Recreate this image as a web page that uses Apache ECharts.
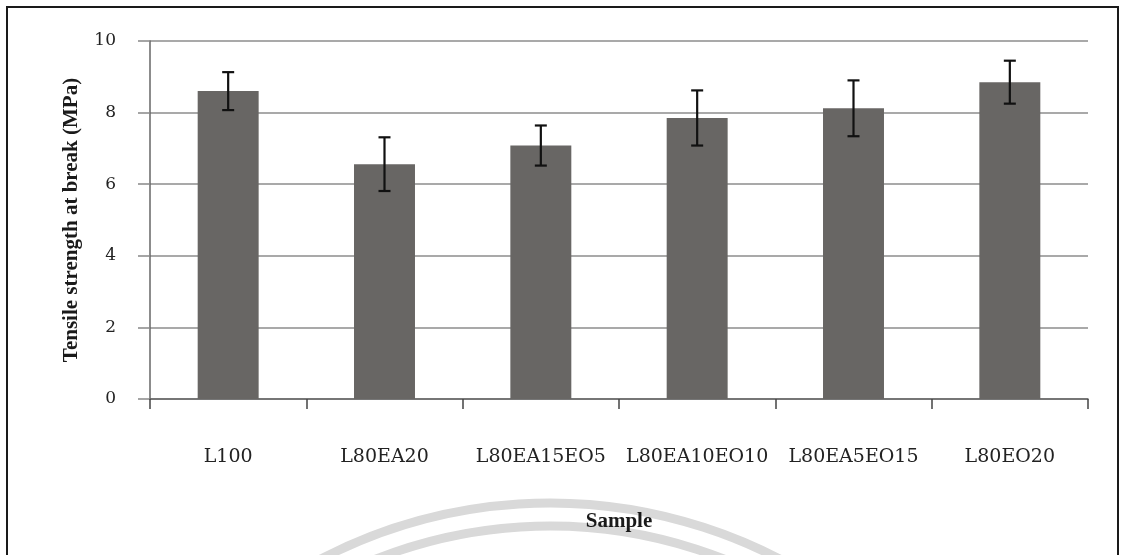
<!DOCTYPE html>
<html>
<head>
<meta charset="utf-8">
<title>Tensile strength at break</title>
<script src="https://cdn.jsdelivr.net/npm/echarts@6/dist/echarts.min.js"></script>
<style>
  html, body { margin: 0; padding: 0; background: #ffffff; }
  #chart { width: 1127px; height: 555px; }
</style>
</head>
<body>
<div id="chart"></div>
<script>
// Sample names along the x axis
const samples = ['L100', 'L80EA20', 'L80EA15EO5', 'L80EA10EO10', 'L80EA5EO15', 'L80EO20'];
// Mean tensile strength at break (MPa)
const strength = [8.6, 6.56, 7.08, 7.85, 8.12, 8.85];
// Standard deviation shown as error bars (MPa)
const deviation = [0.53, 0.75, 0.56, 0.77, 0.78, 0.6];
// Y axis ticks
const yTicks = [0, 2, 4, 6, 8, 10];

const errorData = strength.map((v, i) => [i, v - deviation[i], v + deviation[i]]);

const chart = echarts.init(document.getElementById('chart'), null, { renderer: 'canvas' });

chart.setOption({
  backgroundColor: '#ffffff',
  animation: false,
  graphic: [
    {
      type: 'rect',
      shape: { x: 7, y: 7, width: 1111, height: 560 },
      style: { fill: 'none', stroke: '#1a1a1a', lineWidth: 2 },
      z: -1
    },
    {
      type: 'arc',
      shape: { cx: 550, cy: 1000, r: 497, startAngle: Math.PI * 1.1, endAngle: Math.PI * 1.9 },
      style: { fill: 'none', stroke: '#d9d9d9', lineWidth: 9 },
      z: -2
    },
    {
      type: 'arc',
      shape: { cx: 550, cy: 1000, r: 474, startAngle: Math.PI * 1.1, endAngle: Math.PI * 1.9 },
      style: { fill: 'none', stroke: '#d9d9d9', lineWidth: 9 },
      z: -2
    }
  ],
  grid: { left: 150, right: 39, top: 41, bottom: 156, containLabel: false },
  xAxis: {
    type: 'category',
    data: samples,
    name: 'Sample',
    nameLocation: 'middle',
    nameGap: 112,
    nameTextStyle: { fontFamily: 'Liberation Serif', fontWeight: 'bold', fontSize: 21, color: '#1a1a1a' },
    axisLine: { lineStyle: { color: '#666666', width: 1.5 } },
    axisTick: { show: true, interval: 0, alignWithLabel: false, length: 10, lineStyle: { color: '#444444', width: 1.5 } },
    axisLabel: { interval: 0, hideOverlap: false, margin: 49, fontFamily: 'DejaVu Serif', fontSize: 19, color: '#222222' }
  },
  yAxis: {
    type: 'value',
    min: yTicks[0],
    max: yTicks[yTicks.length - 1],
    interval: 2,
    name: 'Tensile strength at break (MPa)',
    nameLocation: 'middle',
    nameGap: 68,
    nameTextStyle: { fontFamily: 'Liberation Serif', fontWeight: 'bold', fontSize: 21, color: '#1a1a1a' },
    axisLine: { show: true, lineStyle: { color: '#666666', width: 1.5 } },
    axisTick: { show: true, length: 12, lineStyle: { color: '#888888', width: 1.5 } },
    axisLabel: { margin: 34, fontFamily: 'DejaVu Serif', fontSize: 17, color: '#222222' },
    splitLine: { show: true, lineStyle: { color: '#8c8c8c', width: 1.5 } }
  },
  series: [
    {
      type: 'bar',
      data: strength,
      barWidth: '39%',
      itemStyle: { color: '#686664' },
      z: 2
    },
    {
      type: 'custom',
      data: errorData,
      z: 3,
      renderItem: function (params, api) {
        const x = api.value(0);
        const lo = api.coord([x, api.value(1)]);
        const hi = api.coord([x, api.value(2)]);
        const cap = 6;
        const style = { stroke: '#111111', lineWidth: 2.2, fill: 'none' };
        return {
          type: 'group',
          children: [
            { type: 'line', shape: { x1: hi[0], y1: hi[1], x2: lo[0], y2: lo[1] }, style: style },
            { type: 'line', shape: { x1: hi[0] - cap, y1: hi[1], x2: hi[0] + cap, y2: hi[1] }, style: style },
            { type: 'line', shape: { x1: lo[0] - cap, y1: lo[1], x2: lo[0] + cap, y2: lo[1] }, style: style }
          ]
        };
      }
    }
  ]
});
</script>
</body>
</html>
